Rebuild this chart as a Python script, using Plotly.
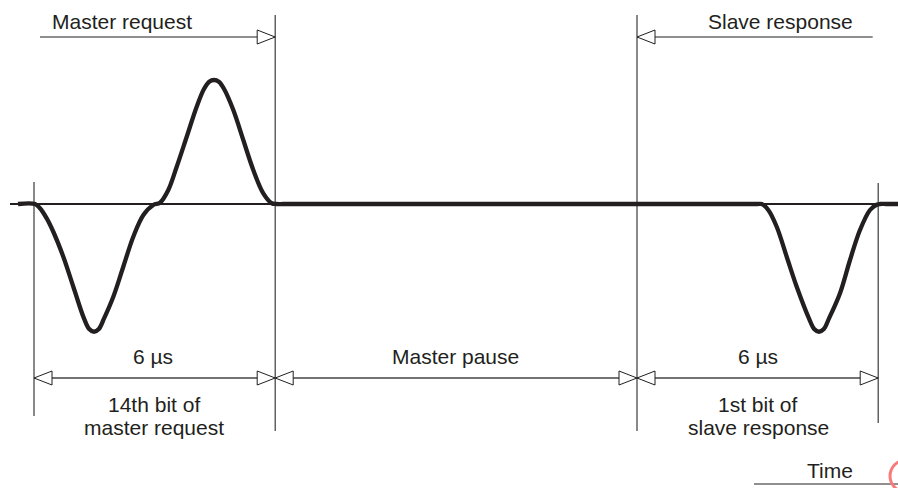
import plotly.graph_objects as go

# ---- data (time in µs, amplitude normalised) ----
wave_t = [-0.398, 0.025, 0.149, 0.316, 0.480, 0.729, 0.978, 1.243, 1.373, 1.493, 1.613,
          1.743, 1.973, 2.221, 2.470, 2.721, 2.968, 3.134, 3.341, 3.550, 3.799, 4.047,
          4.228, 4.358, 4.478, 4.598, 4.728, 4.958, 5.206, 5.455, 5.704, 5.913, 6.037,
          6.2, 6.5, 7.0, 8.0, 9.0, 10.0, 11.0, 12.0, 13.0, 14.0, 15.0, 16.0, 17.0,
          17.5, 17.8, 18.0, 18.102, 18.266, 18.475, 18.724, 18.973, 19.277, 19.407,
          19.527, 19.647, 19.777, 20.050, 20.299, 20.547, 20.796, 20.962, 21.045,
          21.2, 21.493]
wave_v = [0, 0, -0.034, -0.115, -0.222, -0.422, -0.662, -0.915, -1.0, -1.022, -1.0,
          -0.915, -0.742, -0.502, -0.262, -0.088, -0.008, 0.010, 0.112, 0.298, 0.538, 0.778,
          0.920, 0.978, 0.992, 0.978, 0.920, 0.752, 0.512, 0.272, 0.085, 0.006, 0,
          0, 0, 0, 0, 0, 0, 0, 0, 0, 0, 0, 0, 0,
          0, 0, 0, 0, -0.048, -0.182, -0.422, -0.662, -0.915, -1.0,
          -1.022, -1.0, -0.915, -0.714, -0.448, -0.208, -0.048, -0.006, 0,
          0, 0]

baseline_t = [-0.597, 21.493]
bit_bounds = [0, 6, 15, 21]            # µs: start/end of 14th bit, pause, 1st bit
bound_top = [0.176, 1.512, 1.512, 0.168]
bound_bottom = [-1.696, -1.816, -1.816, -1.752]

top_labels = ["Master request", "Slave response"]
top_label_t = [2.201, 18.570]
top_dim_t = [[0.149, 6], [15, 20.863]]     # line extents
top_dim_arrow = [[6, "right"], [15, "left"]]

dim_labels = ["6 µs", "Master pause", "6 µs"]
dim_label_t = [2.960, 10.493, 18.002]
bit_label_line1 = ["14th bit of", "1st bit of"]
bit_label_line2 = ["master request", "slave response"]
bit_label_t = [2.98, 18.02]

time_label = "Time"
time_label_t = 19.801
time_line_t = [17.91, 21.6]

# ---- geometry / style ----
PX_T = 40.2     # px per µs
PX_V = 125.0    # px per unit
X_RANGE = [-34 / PX_T, 864 / PX_T]
Y_RANGE = [-284 / PX_V, 204 / PX_V]
INK = "#231f20"
FONT = dict(family="Liberation Sans, Arial, sans-serif", size=21, color=INK)
TOP_DIM_V = (204 - 37) / PX_V
BOT_DIM_V = (204 - 378) / PX_V


def v_of(py):
    return (204 - py) / PX_V


fig = go.Figure()

# thin baseline
fig.add_trace(go.Scatter(x=baseline_t, y=[0, 0], mode="lines",
                         line=dict(color=INK, width=2), hoverinfo="skip"))
# waveform
fig.add_trace(go.Scatter(x=wave_t, y=wave_v, mode="lines",
                         line=dict(color=INK, width=4.3, shape="spline", smoothing=1),
                         hoverinfo="skip"))

shapes = []
# vertical bit boundaries
for t, y0, y1 in zip(bit_bounds, bound_bottom, bound_top):
    shapes.append(dict(type="line", x0=t, x1=t, y0=y0, y1=y1,
                       line=dict(color="#3a3a3a", width=1.2), layer="below"))


def arrow(tip, v, direction):
    L = 18 / PX_T
    H = 7 / PX_V
    b = tip - L if direction == "right" else tip + L
    return dict(type="path",
                path=f"M {tip},{v} L {b},{v + H} L {b},{v - H} Z",
                fillcolor="white", line=dict(color=INK, width=1))


# top dimension lines
for (a, b) in top_dim_t:
    shapes.append(dict(type="line", x0=a, x1=b, y0=TOP_DIM_V, y1=TOP_DIM_V,
                       line=dict(color=INK, width=1.2)))
for tip, d in top_dim_arrow:
    shapes.append(arrow(tip, TOP_DIM_V, d))

# bottom dimension line
shapes.append(dict(type="line", x0=bit_bounds[0], x1=bit_bounds[-1], y0=BOT_DIM_V, y1=BOT_DIM_V,
                   line=dict(color="#444444", width=1.5)))
for i in range(len(bit_bounds) - 1):
    shapes.append(arrow(bit_bounds[i], BOT_DIM_V, "left"))
    shapes.append(arrow(bit_bounds[i + 1], BOT_DIM_V, "right"))

# Time underline
tl_v = v_of(484)
shapes.append(dict(type="line", x0=time_line_t[0], x1=time_line_t[1], y0=tl_v, y1=tl_v,
                   line=dict(color=INK, width=1.2)))
# red partial mark at right edge
cx, cy, r = (906 - 34) / PX_T, v_of(476), 16
shapes.append(dict(type="circle", x0=cx - r / PX_T, x1=cx + r / PX_T,
                   y0=cy - r / PX_V, y1=cy + r / PX_V,
                   line=dict(color="#f77b7b", width=3)))

annotations = []
for txt, t in zip(top_labels, top_label_t):
    annotations.append(dict(x=t, y=v_of(21), text=txt))
for txt, t in zip(dim_labels, dim_label_t):
    annotations.append(dict(x=t, y=v_of(356), text=txt))
for l1, l2, t in zip(bit_label_line1, bit_label_line2, bit_label_t):
    annotations.append(dict(x=t, y=v_of(404.5), text=l1))
    annotations.append(dict(x=t, y=v_of(427), text=l2))
annotations.append(dict(x=time_label_t, y=v_of(470), text=time_label))
for a in annotations:
    a.update(xref="x", yref="y", showarrow=False, font=FONT,
             xanchor="center", yanchor="middle")

fig.update_layout(
    width=898, height=488,
    margin=dict(l=0, r=0, t=0, b=0),
    paper_bgcolor="white", plot_bgcolor="white",
    showlegend=False,
    shapes=shapes, annotations=annotations,
    xaxis=dict(range=X_RANGE, visible=False, fixedrange=True),
    yaxis=dict(range=Y_RANGE, visible=False, fixedrange=True),
)

fig.write_html("out.html", config={"displayModeBar": False},
               post_script="document.body.style.margin='0';document.body.style.overflow='hidden';")
